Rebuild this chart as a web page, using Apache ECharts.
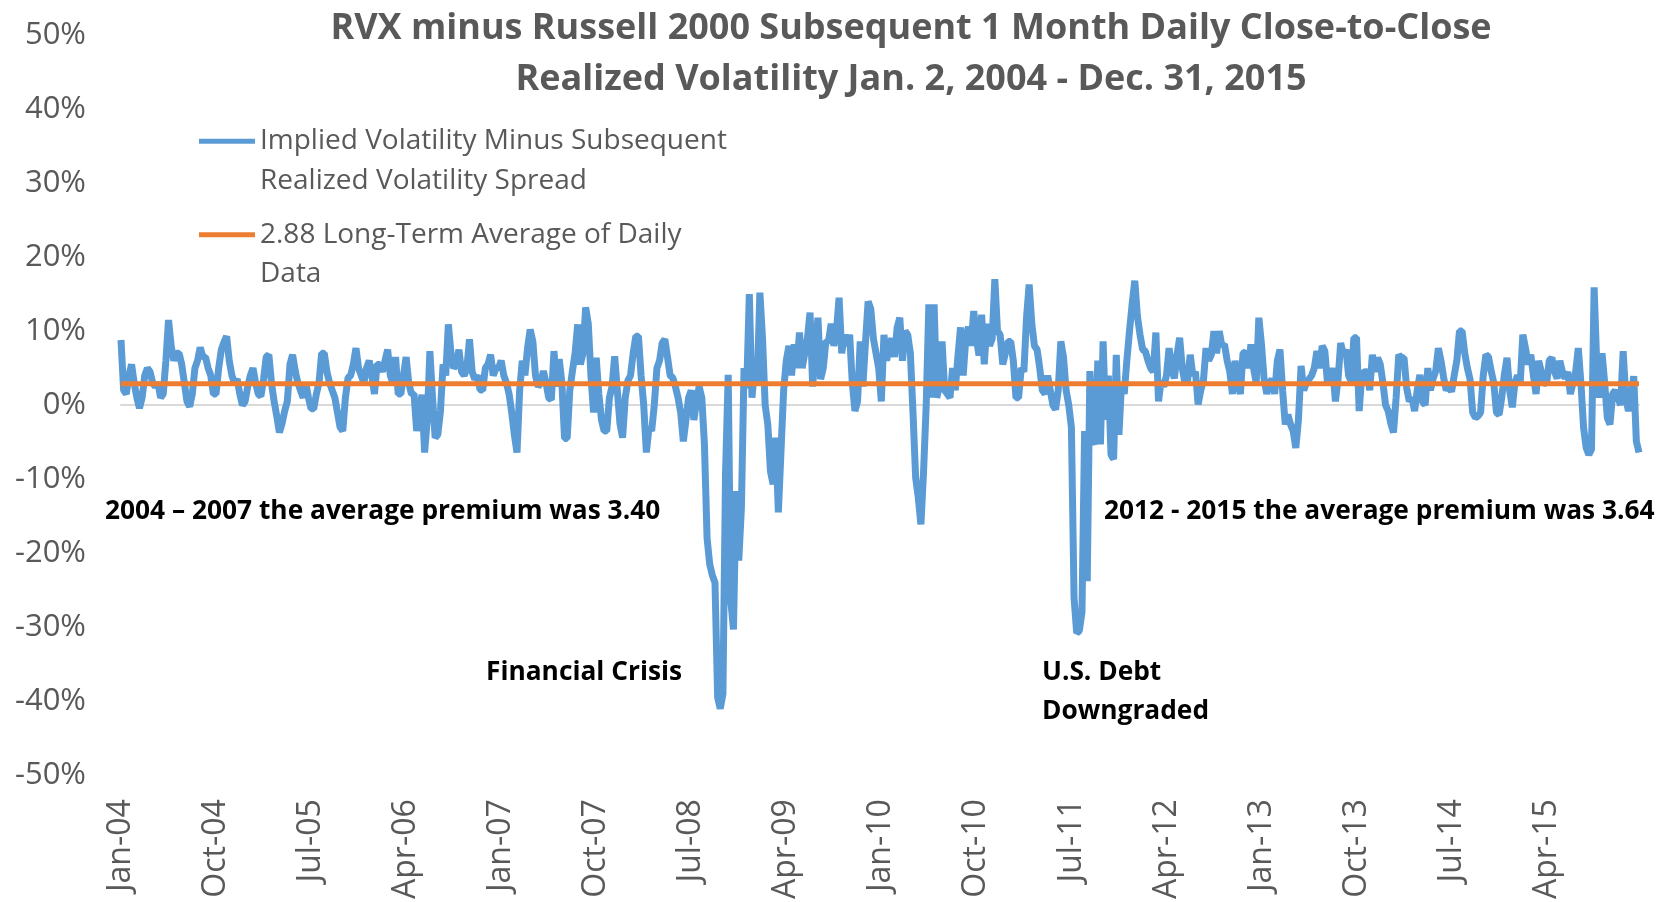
<!DOCTYPE html>
<html>
<head>
<meta charset="utf-8">
<script src="https://cdn.jsdelivr.net/npm/echarts@6/dist/echarts.min.js"></script>
<style>
html,body{margin:0;padding:0;background:#fff;}
#chart{width:1669px;height:902px;}
</style>
</head>
<body>
<div id="chart"></div>
<script>
// ---- Data (percent), approx. 4 samples per month ----
const MONTHS = ['Jan','Feb','Mar','Apr','May','Jun','Jul','Aug','Sep','Oct','Nov','Dec'];
const YEARS = ['04','05','06','07','08','09','10','11','12','13','14','15'];
const WEEKS = [1,2,3,4];

const v2004 = [8.8,2,1.5,4, 5.5,3,1,-0.4, 1,4,5,4.5, 3,2.5,3,1, 1.5,6,11.5,8, 6,7,7,5.5, 3,0.5,-0.2,1.5, 5,6,7.8,6.5, 6.5,5,4,1.5, 1.5,5,7.5,8.5, 9.3,6,4,3, 3.5,1.5,0,0.5];
const v2005 = [2.5,4,5,3, 1.5,1.2,3.5,6.5, 6.8,3,0.5,-1.5, -3.7,-2.5,-0.8,0.5, 5.5,6.8,4.6,3, 2,1,3,1, -0.5,-0.5,1.5,3, 7,7,4.5,3, 2,1,-1,-3, -3.5,1,3.7,4, 5.5,7.7,5,4, 3,5,6,4];
const v2006 = [1.5,5.5,5.5,4.5, 6,7.5,4,3, 6.5,1.5,1.5,4, 6.5,3,1.5,1.5, -3.5,-1,1.4,-6.4, -2,7.3,1,-4.4, -4,-0.8,5.5,4, 10.9,7,5,5.5, 7.5,4.5,4,5, 8.9,4.5,3.5,4, 2.1,2,5,5.5, 6.8,4,5,5];
const v2007 = [6,4,3,1.5, -1,-4,-6.4,2, 6,4,7.7,10.2, 8.6,4,2.5,3, 4.6,3,1,0.7, 7.3,2.5,6.2,3, -4.5,-4.5,2,4.6, 7,10.9,5.5,7, 13.2,11,4,-1, 6.4,1.5,-2,-3.5, -3.5,1,2.5,6.6, 2,-2.5,-4.4,1];
const v2008 = [3.3,4,7,9.3, 9.3,4,0,-6.4, -3,-3.5,0,5, 6,8.4,8.9,6.5, 4,3.7,2.5,1, -1,-4.9,-2,1, 2,-2,0.5,2.5, 1,-5.3,-18,-21.5, -23,-24,-39.5,-41, -39,-9,4.1,-26.5, -30.3,-11.6,-21,-13.9, 5,2.3,15,1];
const v2009 = [5,3,15.2,9, 0,-2.6,-8.9,-10.7, -4.4,-14.5,-6.2,2, 6,8,4,8.2, 5,9.8,5,7, 9,12.5,2.5,7.5, 11.8,3.5,5,8.6, 8.6,11,8,10, 14.5,7,9.5,8, 9.5,3,-0.8,0.5, 8.6,2.5,8.5,14, 13,9,7,5];
const v2010 = [0.5,9.5,6,8, 9,6.5,10.5,11.8, 6,10,9.5,7, -1,-9.8,-12.5,-16.1, -9,0,13.6,1, 13.6,1,2.5,8.6, 2,1.5,1,5, 2,6.5,10.5,4, 9,10.6,8,12.7, 9,6.7,12.2,5.5, 11,8,9,17, 10,9.5,5.5,7];
const v2011 = [8.6,8.6,6,1, 1,5,4.5,11.8, 16.3,11,8,7.5, 5,2,1.5,4, 2,0,-0.6,2, 8.6,6.5,2,0, -3,-26,-30.8,-30.5, -28,-3.5,-23.8,4.6, -4.4,-5.3,6,-5.3, 8.6,-2,4,-6.7, -7.3,6.8,-4,3, 1.5,6,10,13.6];
const v2012 = [16.8,12,9.5,7.5, 7.3,6,5,4.5, 9.8,0.5,3.3,2.5, 4,7.7,5,3.6, 6.8,9.1,5,3, 3.3,6.8,4,4.5, 0.1,2,3.3,7.7, 6,6.8,10,7, 10,8,8.2,6, 4.5,1.5,6,3, 1.5,7,7.2,5, 8.2,5,3,11.8];
const v2013 = [8.2,3.5,1.5,3, 3.5,1.5,6,7.5, 2,-2.6,-1.3,-2.6, -3.5,-5.8,-2,5.3, 2,3,3.5,4, 5,7.3,5,8, 7.3,3,3.5,5, 0.5,3.5,8.4,6.8, 7.5,4,3.2,9.1, 9.1,-0.8,4.1,4.5, 4.5,2,6.8,4.5, 6.4,5.5,3,0];
const v2014 = [-0.8,-2.5,-3.7,1, 6.8,6.4,6.4,2.3, 0.5,1,-0.8,2, 4.1,0.5,0,5, 2,3.6,4.6,7.7, 6,3.7,2,2.5, 1.8,4,6,10, 10,7,5,3.5, -1,-1.7,-1.5,-1, 4,6.8,6.5,4.6, 3,-1,-1.3,1, 4.1,6.4,2,-0.3];
const v2015 = [3,4,3,9.5, 7.7,5.5,6.8,4, 1.5,6,4.5,3, 2.9,6,6.4,4.5, 3.6,6,4.5,3.6, 4.5,1.5,3,4.5, 7.7,3,-3,-5.8, -6.7,-6,15.9,5.5, 1,7,3,-1.7, -2.6,1.5,2,1, 0,7.3,1,-0.8, 1,3.9,-4.9,-6.4];

const LONG_TERM_AVG = 2.88;
const Y_TICKS = [-50,-40,-30,-20,-10,0,10,20,30,40,50];

const SERIES_SPREAD = 'Implied Volatility Minus Subsequent Realized Volatility Spread';
const SERIES_AVG = '2.88 Long-Term Average of Daily Data';
const LEGEND_TEXT = {};
LEGEND_TEXT[SERIES_SPREAD] = 'Implied Volatility Minus Subsequent\nRealized Volatility Spread';
LEGEND_TEXT[SERIES_AVG] = '2.88 Long-Term Average of Daily\nData';

const TITLE_LINES = ['RVX minus Russell 2000 Subsequent 1 Month Daily Close-to-Close',
                     'Realized Volatility Jan. 2, 2004 - Dec. 31, 2015'];
const NOTE_LEFT = '2004 \u2013 2007 the average premium was 3.40';
const NOTE_RIGHT = '2012 - 2015 the average premium was 3.64';
const NOTE_CRISIS = 'Financial Crisis';
const NOTE_DEBT = ['U.S. Debt', 'Downgraded'];

// ---- Build the table ----
const categories = [];
YEARS.forEach(y => MONTHS.forEach(m => WEEKS.forEach(w => categories.push(m + '-' + y + ' ' + w))));
const spread = [].concat(v2004, v2005, v2006, v2007, v2008, v2009, v2010, v2011, v2012, v2013, v2014, v2015);
const avgLine = [[categories[0], LONG_TERM_AVG], [categories[categories.length - 1], LONG_TERM_AVG]];

const FONT = "'Open Sans', 'Noto Sans', sans-serif";
const GRAY = '#595959';

const chart = echarts.init(document.getElementById('chart'), null, {renderer: 'canvas'});

function legendCfg(name, top) {
  return {
    show: true,
    data: [name],
    orient: 'vertical',
    left: 199,
    top: top,
    padding: 0,
    itemWidth: 56,
    itemHeight: 14,
    icon: 'path://M0,0 L56,0 L56,5 L0,5 Z',
    selectedMode: false,
    // leading blank line keeps the icon level with the first text line
    formatter: n => '\n' + LEGEND_TEXT[n],
    textStyle: {
      fontFamily: FONT, fontSize: 28, color: GRAY,
      lineHeight: 39.5
    }
  };
}

const option = {
  animation: false,
  backgroundColor: '#ffffff',
  textStyle: {fontFamily: FONT},
  grid: {left: 121, right: 30, top: 35, bottom: 125, containLabel: false},
  legend: [legendCfg(SERIES_SPREAD, 82), legendCfg(SERIES_AVG, 175.5)],
  xAxis: [{
    type: 'category',
    data: categories,
    boundaryGap: false,
    position: 'bottom',
    axisLine: {show: false, onZero: false},
    axisTick: {show: false},
    splitLine: {show: false},
    axisLabel: {
      interval: 35, rotate: 90, margin: 24,
      fontFamily: FONT, fontSize: 32, color: GRAY,
      formatter: v => v.split(' ')[0]
    }
  }, {
    type: 'category',
    data: categories,
    boundaryGap: false,
    position: 'bottom',
    axisLine: {show: true, onZero: true, lineStyle: {color: '#D9D9D9', width: 2}},
    axisTick: {show: false},
    axisLabel: {show: false},
    splitLine: {show: false}
  }],
  yAxis: {
    type: 'value',
    min: Y_TICKS[0], max: Y_TICKS[Y_TICKS.length - 1], interval: 10,
    axisLine: {show: false},
    axisTick: {show: false},
    splitLine: {show: false},
    axisLabel: {
      margin: 35, fontFamily: FONT, fontSize: 31, color: GRAY,
      formatter: v => v + '%'
    }
  },
  series: [{
    name: SERIES_SPREAD,
    type: 'line',
    data: spread,
    symbol: 'none',
    showSymbol: false,
    z: 3,
    itemStyle: {color: '#5B9BD5'},
    lineStyle: {color: '#5B9BD5', width: 7}
  }, {
    name: SERIES_AVG,
    type: 'line',
    data: avgLine,
    symbol: 'none',
    showSymbol: false,
    z: 4,
    itemStyle: {color: '#ED7D31'},
    lineStyle: {color: '#ED7D31', width: 5}
  }],
  graphic: [
    {type: 'text', x: 911, y: 28.5, style: {text: TITLE_LINES[0], font: "bold 36px " + FONT, fill: GRAY, align: 'center', verticalAlign: 'middle'}},
    {type: 'text', x: 911, y: 80, style: {text: TITLE_LINES[1], font: "bold 36px " + FONT, fill: GRAY, align: 'center', verticalAlign: 'middle'}},
    {type: 'text', x: 105, y: 512, style: {text: NOTE_LEFT, font: "bold 26.3px " + FONT, fill: '#000', align: 'left', verticalAlign: 'middle'}},
    {type: 'text', x: 1104, y: 512, style: {text: NOTE_RIGHT, font: "bold 26.3px " + FONT, fill: '#000', align: 'left', verticalAlign: 'middle'}},
    {type: 'text', x: 486, y: 673, style: {text: NOTE_CRISIS, font: "bold 26.3px " + FONT, fill: '#000', align: 'left', verticalAlign: 'middle'}},
    {type: 'text', x: 1042, y: 673, style: {text: NOTE_DEBT[0], font: "bold 26.3px " + FONT, fill: '#000', align: 'left', verticalAlign: 'middle'}},
    {type: 'text', x: 1042, y: 712, style: {text: NOTE_DEBT[1], font: "bold 26.3px " + FONT, fill: '#000', align: 'left', verticalAlign: 'middle'}}
  ]
};
chart.setOption(option);
</script>
</body>
</html>
